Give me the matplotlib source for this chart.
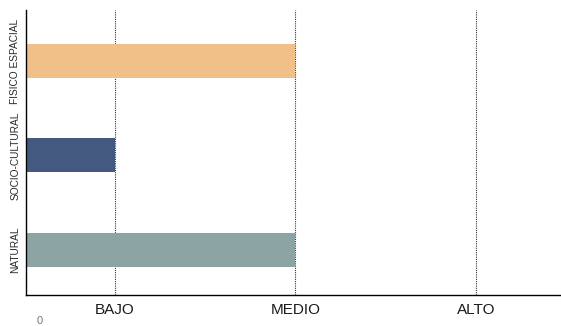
import numpy as np
import matplotlib.pyplot as plt

plt.rcParams['font.family'] = ['Liberation Sans', 'DejaVu Sans']

categorias = ["NATURAL", "SOCIO-CULTURAL", "FISICO ESPACIAL"]
valores = [2, 1, 2]
colores = ["#8ca5a4", "#44597f", "#f0c088"]
niveles = ["BAJO", "MEDIO", "ALTO"]

fig = plt.figure(figsize=[5.61, 3.26], dpi=100)
ax = fig.add_axes([0.0463, 0.095, 0.9537, 0.874])

y = np.arange(len(categorias))
ax.barh(y, valores, height=0.36, color=colores, zorder=2)

for i in range(len(niveles)):
    ax.axvline(i + 1, color="#333333", linestyle=(0, (1, 1)), linewidth=0.8, zorder=1)

ax.set_xlim(0.51, 3.47)
ax.set_ylim(-0.48, 2.54)
ax.set_xticks(range(1, len(niveles) + 1))
ax.set_xticklabels(niveles, fontsize=11, color="#1a1a1a")
ax.set_yticks(y)
ax.set_yticklabels(categorias, rotation=90, va="center", fontsize=7.3, color="#2a2a2a")
ax.tick_params(length=0, axis="x", pad=6)
ax.tick_params(length=0, axis="y", pad=4)

for s in ["top", "right"]:
    ax.spines[s].set_visible(False)
ax.spines["left"].set_linewidth(1.0)
ax.spines["bottom"].set_linewidth(1.0)

fig.text(40 / 561, 1 - 321 / 326, "0", fontsize=8, color="#777777", ha="center", va="center")

plt.savefig("out.png", dpi=100)
